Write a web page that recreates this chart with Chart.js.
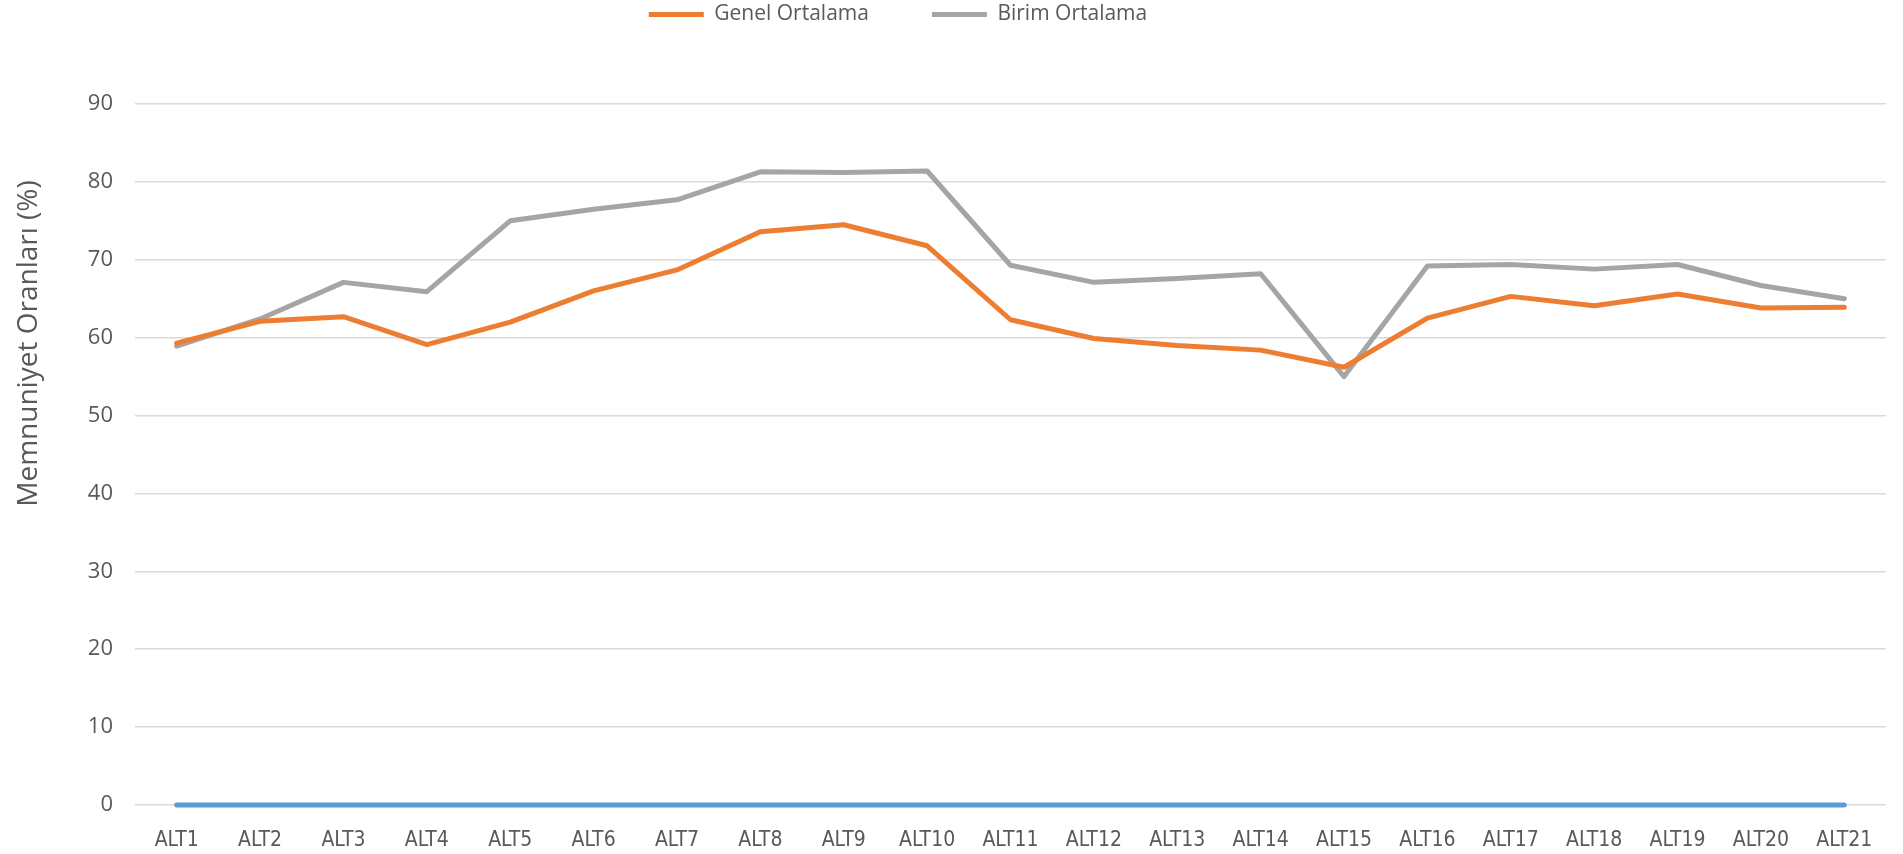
<!DOCTYPE html>
<html lang="tr">
<head>
    <meta charset="UTF-8">
    <meta name="viewport" content="width=device-width, initial-scale=1.0">
    <title>Memnuniyet Oranları</title>
    <script src="https://cdn.jsdelivr.net/npm/chart.js"></script>
    <style>
        body { margin: 0; background: #ffffff; }
        #kutu { position: relative; width: 1903px; height: 854px; }
    </style>
</head>
<body>

<div id="kutu">
    <canvas id="myChart"></canvas>
</div>

<script>
    // veriler
    const etiketler = ['ALT1', 'ALT2', 'ALT3', 'ALT4', 'ALT5', 'ALT6', 'ALT7', 'ALT8', 'ALT9', 'ALT10', 'ALT11',
        'ALT12', 'ALT13', 'ALT14', 'ALT15', 'ALT16', 'ALT17', 'ALT18', 'ALT19', 'ALT20', 'ALT21']
    const sifirSerisi = [0, 0, 0, 0, 0, 0, 0, 0, 0, 0, 0, 0, 0, 0, 0, 0, 0, 0, 0, 0, 0]
    const genelOrtalama = [59.3, 62.1, 62.7, 59.1, 62.0, 66.0, 68.7, 73.6, 74.5, 71.8, 62.3,
        59.9, 59.0, 58.4, 56.2, 62.5, 65.3, 64.1, 65.6, 63.8, 63.9]
    const birimOrtalama = [58.9, 62.4, 67.1, 65.9, 75.0, 76.5, 77.7, 81.3, 81.2, 81.4, 69.3,
        67.1, 67.6, 68.2, 55.0, 69.2, 69.4, 68.8, 69.4, 66.7, 65.0]
    const yEksenBasligi = 'Memnuniyet Oranları (%)'

    const yaziRengi = '#595959'

    // legend ve y ekseni basligini Excel'deki yerine kaydirir
    const yerlesim = {
        id: 'yerlesim',
        beforeInit(chart) {
            const fit = chart.legend.fit
            chart.legend.fit = function () {
                fit.call(this)
                this.height = 104
            }
        },
        afterLayout(chart) {
            const lg = chart.legend
            lg.left -= 45
            lg.right -= 45
            lg.top -= 59
            const y = chart.scales.y
            y.top -= 111
            y.bottom -= 111
        }
    }

    var ctx = document.getElementById('myChart')
    var myChart = new Chart(ctx, {
        type: 'line',
        data: {
            labels: etiketler,
            datasets: [{
                label: 'Seri1',
                data: sifirSerisi,
                borderColor: '#5B9BD5',
                backgroundColor: '#5B9BD5',
                borderWidth: 5,
                borderCapStyle: 'round',
                pointRadius: 0,
                clip: false
            }, {
                label: 'Genel Ortalama',
                data: genelOrtalama,
                borderColor: '#ED7D31',
                backgroundColor: '#ED7D31',
                borderWidth: 5,
                borderCapStyle: 'round',
                borderJoinStyle: 'round',
                pointRadius: 0,
                clip: false
            }, {
                label: 'Birim Ortalama',
                data: birimOrtalama,
                borderColor: '#A5A5A5',
                backgroundColor: '#A5A5A5',
                borderWidth: 5,
                borderCapStyle: 'round',
                borderJoinStyle: 'round',
                pointRadius: 0,
                clip: false
            }]
        },
        options: {
            responsive: true,
            maintainAspectRatio: false,
            animation: false,
            layout: { padding: { left: 0, right: 17, top: 0, bottom: 0 } },
            plugins: {
                tooltip: { enabled: false },
                legend: {
                    position: 'top',
                    labels: {
                        filter: item => item.datasetIndex !== 0,
                        usePointStyle: true,
                        pointStyle: 'line',
                        pointStyleWidth: 55,
                        boxHeight: 21,
                        padding: 63,
                        color: yaziRengi,
                        font: { family: "'Open Sans', sans-serif", size: 21 }
                    }
                }
            },
            scales: {
                x: {
                    offset: true,
                    grid: { display: false },
                    border: { display: false },
                    ticks: {
                        autoSkip: false,
                        maxRotation: 0,
                        padding: 15,
                        color: yaziRengi,
                        font: { family: "'DejaVu Sans Condensed', 'Liberation Sans', sans-serif", size: 21 }
                    },
                    afterFit: ax => { ax.height = 49 }
                },
                y: {
                    min: 0,
                    max: 90,
                    grid: { color: '#D9D9D9', lineWidth: 1.5, drawTicks: false },
                    border: { display: false },
                    ticks: {
                        stepSize: 10,
                        padding: 22,
                        color: yaziRengi,
                        font: { family: "'Open Sans', sans-serif", size: 22 }
                    },
                    title: {
                        display: true,
                        text: yEksenBasligi,
                        color: yaziRengi,
                        padding: { top: 12, bottom: 0 },
                        font: { family: "'Open Sans', sans-serif", size: 28 }
                    },
                    afterFit: ax => { ax.width = 135 }
                }
            }
        },
        plugins: [yerlesim]
    })
</script>
</body>
</html>
